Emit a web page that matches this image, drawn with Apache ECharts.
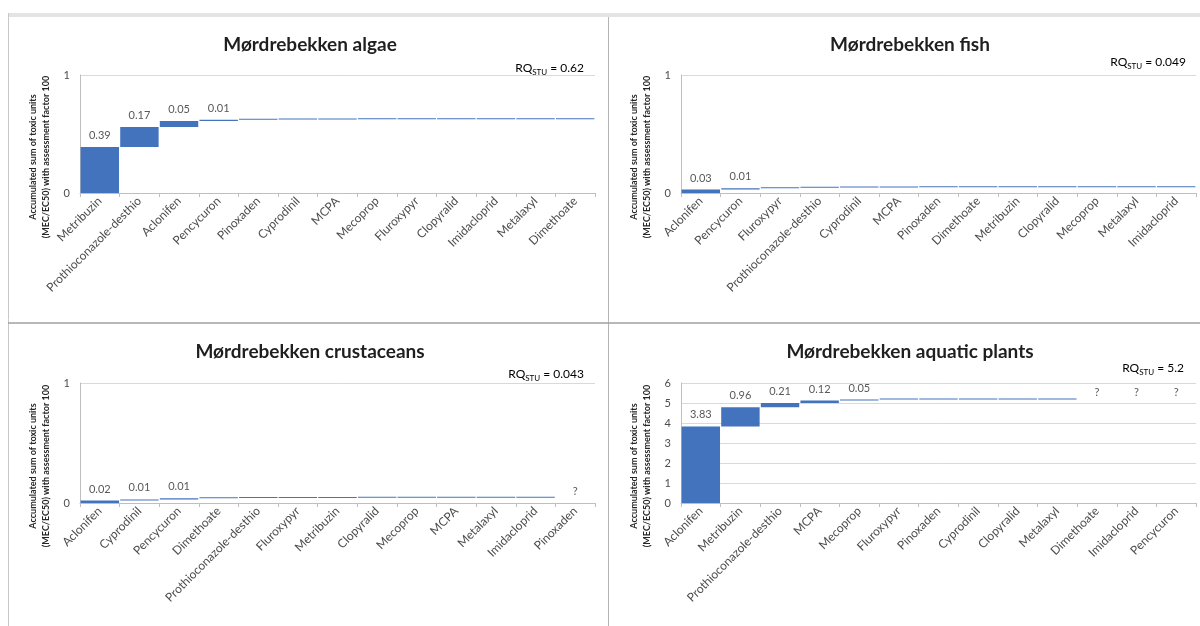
<!DOCTYPE html>
<html>
<head>
<meta charset="utf-8">
<script src="https://cdn.jsdelivr.net/npm/echarts@6/dist/echarts.min.js"></script>
<style>
  html, body { margin: 0; padding: 0; background: #ffffff; }
  #chart { width: 1200px; height: 626px; }
</style>
</head>
<body>
<div id="chart"></div>
<script>
// Toxic-unit contributions per substance (MEC/EC50 x 100), ordered by contribution.
// null = no effect data for that substance (drawn as "?").
const algaeCategories = ['Metribuzin', 'Prothioconazole-desthio', 'Aclonifen', 'Pencycuron', 'Pinoxaden', 'Cyprodinil', 'MCPA', 'Mecoprop', 'Fluroxypyr', 'Clopyralid', 'Imidacloprid', 'Metalaxyl', 'Dimethoate'];
const algaeValues = [0.39, 0.17, 0.05, 0.01, 0.002, 0.001, 0.001, 0.0008, 0.0005, 0.0003, 0.0002, 0.0001, 0.0001];

const fishCategories = ['Aclonifen', 'Pencycuron', 'Fluroxypyr', 'Prothioconazole-desthio', 'Cyprodinil', 'MCPA', 'Pinoxaden', 'Dimethoate', 'Metribuzin', 'Clopyralid', 'Mecoprop', 'Metalaxyl', 'Imidacloprid'];
const fishValues = [0.03, 0.01, 0.004, 0.002, 0.001, 0.001, 0.0005, 0.0003, 0.0002, 0.0001, 0.0001, 0.0001, 0.0001];

const crustaceanCategories = ['Aclonifen', 'Cyprodinil', 'Pencycuron', 'Dimethoate', 'Prothioconazole-desthio', 'Fluroxypyr', 'Metribuzin', 'Clopyralid', 'Mecoprop', 'MCPA', 'Metalaxyl', 'Imidacloprid', 'Pinoxaden'];
const crustaceanValues = [0.02, 0.01, 0.01, 0.001, 0.001, 0.0005, 0.0003, 0.0002, 0.0001, 0.0001, 0.0001, 0.0001, null];

const aquaticCategories = ['Aclonifen', 'Metribuzin', 'Prothioconazole-desthio', 'MCPA', 'Mecoprop', 'Fluroxypyr', 'Pinoxaden', 'Cyprodinil', 'Clopyralid', 'Metalaxyl', 'Dimethoate', 'Imidacloprid', 'Pencycuron'];
const aquaticValues = [3.83, 0.96, 0.21, 0.12, 0.05, 0.004, 0.003, 0.002, 0.001, 0.001, null, null, null];

const panelTitles = ['Mørdrebekken algae', 'Mørdrebekken fish', 'Mørdrebekken crustaceans', 'Mørdrebekken aquatic plants'];
const rqValues = ['0.62', '0.049', '0.043', '5.2'];
const yAxisTicksMax = [1, 1, 1, 6];
const yAxisTitle = ['Accumulated sum of toxic units', '(MEC/EC50) with assessment factor 100'];

const panelData = [
  { cats: algaeCategories, vals: algaeValues },
  { cats: fishCategories, vals: fishValues },
  { cats: crustaceanCategories, vals: crustaceanValues },
  { cats: aquaticCategories, vals: aquaticValues }
];

// Panel placement on the 1200x626 page
const layout = [
  { grid: { left: 80, top: 75, width: 515, height: 118 },  titleX: 310, titleY: 35,  rqX: 584,  rqY: 68,  yTitleX: 40,  yTitleY: 157 },
  { grid: { left: 681, top: 75, width: 515, height: 118 }, titleX: 910, titleY: 35,  rqX: 1186, rqY: 62,  yTitleX: 641, yTitleY: 157 },
  { grid: { left: 80, top: 383, width: 515, height: 120 }, titleX: 310, titleY: 342, rqX: 584,  rqY: 374, yTitleX: 40,  yTitleY: 466 },
  { grid: { left: 681, top: 383, width: 515, height: 120 }, titleX: 910, titleY: 342, rqX: 1184, rqY: 368, yTitleX: 641, yTitleY: 466 }
];

const BAR = '#4473BE';
const FONT = 'Lato, "Open Sans", sans-serif';

// Split each series into an invisible running base and the visible step
function waterfall(values) {
  const base = [], step = [];
  let run = 0;
  values.forEach(v => {
    if (v == null) { base.push(run); step.push(null); }
    else { base.push(run); step.push(v); run += v; }
  });
  return { base, step };
}

const grids = [], xAxes = [], yAxes = [], series = [], titles = [], graphics = [];

panelData.forEach((p, i) => {
  const L = layout[i];
  const wf = waterfall(p.vals);
  grids.push(Object.assign({ containLabel: false }, L.grid));

  xAxes.push({
    type: 'category', gridIndex: i, data: p.cats,
    axisLine: { lineStyle: { color: '#bfbfbf' } },
    axisTick: { show: true, length: 4, lineStyle: { color: '#bfbfbf' } },
    axisLabel: { rotate: 45, interval: 0, fontSize: 12, color: '#4d4d4d', fontFamily: FONT, margin: 6 }
  });

  yAxes.push({
    type: 'value', gridIndex: i, min: 0, max: yAxisTicksMax[i], interval: 1,
    axisLine: { show: true, lineStyle: { color: '#bfbfbf' } },
    axisTick: { show: false },
    splitLine: { show: true, lineStyle: { color: '#d9d9d9' } },
    axisLabel: { fontSize: 11, color: '#4d4d4d', fontFamily: FONT, margin: 10 }
  });

  series.push({
    type: 'bar', xAxisIndex: i, yAxisIndex: i, stack: 'wf' + i,
    data: wf.base, barCategoryGap: '3%',
    itemStyle: { color: 'rgba(0,0,0,0)' },
    emphasis: { disabled: true },
    silent: true,
    label: {
      show: true, position: 'top', distance: 1,
      fontSize: 11, color: '#595959', fontFamily: FONT,
      formatter: d => (p.vals[d.dataIndex] == null ? '?' : '')
    }
  });

  series.push({
    type: 'bar', xAxisIndex: i, yAxisIndex: i, stack: 'wf' + i,
    data: wf.step, barCategoryGap: '3%', barMinHeight: 1,
    itemStyle: { color: BAR },
    label: {
      show: true, position: 'top', distance: 6,
      fontSize: 11, color: '#595959', fontFamily: FONT,
      formatter: d => (d.value != null && d.value >= 0.005 ? d.value.toFixed(2) : '')
    }
  });

  titles.push({
    text: panelTitles[i], left: L.titleX, top: L.titleY, textAlign: 'center', padding: 0,
    textStyle: { fontSize: 19, fontWeight: 'bold', color: '#1f1f1f', fontFamily: FONT }
  });

  graphics.push({
    type: 'text', x: L.rqX, y: L.rqY, silent: true,
    style: {
      text: '{a|RQ}{b|STU}{a| = ' + rqValues[i] + '}',
      align: 'right', verticalAlign: 'middle',
      rich: {
        a: { fontSize: 12, color: '#595959', fontFamily: FONT, lineHeight: 16, verticalAlign: 'middle' },
        b: { fontSize: 8, color: '#595959', fontFamily: FONT, lineHeight: 16, verticalAlign: 'bottom', padding: [6, 0, 0, 0] }
      }
    }
  });

  graphics.push({
    type: 'text', x: L.yTitleX, y: L.yTitleY, rotation: Math.PI / 2, silent: true,
    style: {
      text: yAxisTitle.join('\n'),
      align: 'center', verticalAlign: 'middle', lineHeight: 13,
      font: 'bold 9px ' + FONT, fill: '#262626'
    }
  });
});

// Frame lines around and between the four panels
graphics.push(
  { type: 'rect', shape: { x: 8, y: 13, width: 1192, height: 4 }, style: { fill: '#e4e4e4' }, silent: true },
  { type: 'line', shape: { x1: 8.5, y1: 13, x2: 8.5, y2: 626 }, style: { stroke: '#c8c8c8', lineWidth: 1 }, silent: true },
  { type: 'line', shape: { x1: 608.5, y1: 17, x2: 608.5, y2: 626 }, style: { stroke: '#b4b4b4', lineWidth: 1 }, silent: true },
  { type: 'line', shape: { x1: 8, y1: 323, x2: 1200, y2: 323 }, style: { stroke: '#a0a0a0', lineWidth: 1.5 }, silent: true }
);

const chart = echarts.init(document.getElementById('chart'), null, { renderer: 'canvas' });
chart.setOption({
  animation: false,
  backgroundColor: '#ffffff',
  title: titles,
  grid: grids,
  xAxis: xAxes,
  yAxis: yAxes,
  series: series,
  graphic: graphics
});
</script>
</body>
</html>
